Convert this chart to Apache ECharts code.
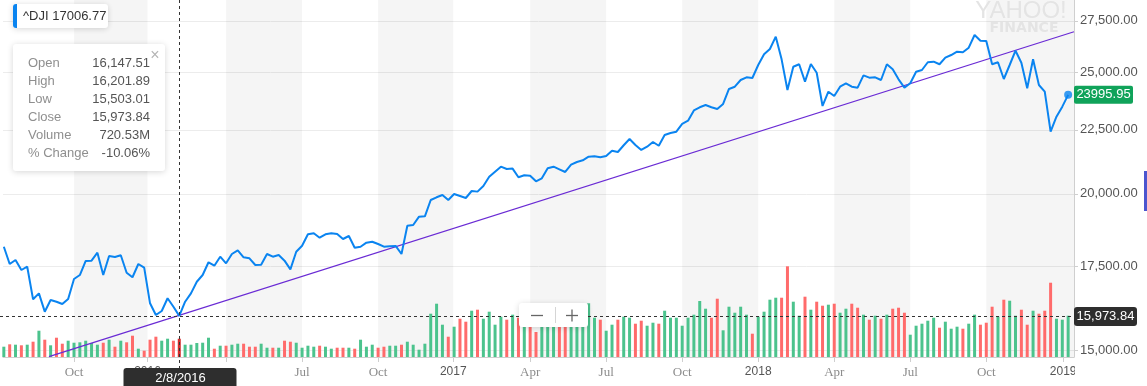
<!DOCTYPE html>
<html><head><meta charset="utf-8">
<script src="https://cdn.jsdelivr.net/npm/echarts@6/dist/echarts.min.js"></script>
<style>html,body{margin:0;padding:0;background:#fff}#c{width:1147px;height:386px}</style>
</head><body><div id="c"></div>
<script>
// ---- DATA ----
const symbolName = '^DJI';
const legendValue = '17006.77';
const weekDates = [
'2015-07-13','2015-07-20','2015-07-27',
'2015-08-03','2015-08-10','2015-08-17','2015-08-24','2015-08-31',
'2015-09-07','2015-09-14','2015-09-21','2015-09-28',
'2015-10-05','2015-10-12','2015-10-19','2015-10-26',
'2015-11-02','2015-11-09','2015-11-16','2015-11-23','2015-11-30',
'2015-12-07','2015-12-14','2015-12-21','2015-12-28',
'2016-01-04','2016-01-11','2016-01-18','2016-01-25',
'2016-02-01','2016-02-08','2016-02-15','2016-02-22','2016-02-29',
'2016-03-07','2016-03-14','2016-03-21','2016-03-28',
'2016-04-04','2016-04-11','2016-04-18','2016-04-25',
'2016-05-02','2016-05-09','2016-05-16','2016-05-23','2016-05-30',
'2016-06-06','2016-06-13','2016-06-20','2016-06-27',
'2016-07-04','2016-07-11','2016-07-18','2016-07-25',
'2016-08-01','2016-08-08','2016-08-15','2016-08-22','2016-08-29',
'2016-09-05','2016-09-12','2016-09-19','2016-09-26',
'2016-10-03','2016-10-10','2016-10-17','2016-10-24','2016-10-31',
'2016-11-07','2016-11-14','2016-11-21','2016-11-28',
'2016-12-05','2016-12-12','2016-12-19','2016-12-26',
'2017-01-02','2017-01-09','2017-01-16','2017-01-23','2017-01-30',
'2017-02-06','2017-02-13','2017-02-20','2017-02-27',
'2017-03-06','2017-03-13','2017-03-20','2017-03-27',
'2017-04-03','2017-04-10','2017-04-17','2017-04-24',
'2017-05-01','2017-05-08','2017-05-15','2017-05-22','2017-05-29',
'2017-06-05','2017-06-12','2017-06-19','2017-06-26',
'2017-07-03','2017-07-10','2017-07-17','2017-07-24','2017-07-31',
'2017-08-07','2017-08-14','2017-08-21','2017-08-28',
'2017-09-04','2017-09-11','2017-09-18','2017-09-25',
'2017-10-02','2017-10-09','2017-10-16','2017-10-23','2017-10-30',
'2017-11-06','2017-11-13','2017-11-20','2017-11-27',
'2017-12-04','2017-12-11','2017-12-18','2017-12-25',
'2018-01-01','2018-01-08','2018-01-15','2018-01-22','2018-01-29',
'2018-02-05','2018-02-12','2018-02-19','2018-02-26',
'2018-03-05','2018-03-12','2018-03-19','2018-03-26',
'2018-04-02','2018-04-09','2018-04-16','2018-04-23','2018-04-30',
'2018-05-07','2018-05-14','2018-05-21','2018-05-28',
'2018-06-04','2018-06-11','2018-06-18','2018-06-25',
'2018-07-02','2018-07-09','2018-07-16','2018-07-23','2018-07-30',
'2018-08-06','2018-08-13','2018-08-20','2018-08-27',
'2018-09-03','2018-09-10','2018-09-17','2018-09-24',
'2018-10-01','2018-10-08','2018-10-15','2018-10-22','2018-10-29',
'2018-11-05','2018-11-12','2018-11-19','2018-11-26',
'2018-12-03','2018-12-10','2018-12-17','2018-12-24','2018-12-31',
'2019-01-07'];
const closePrices = [
18143,17574,17705,17381,17487,16468,16650,16097,16446,16395,
16326,16478,17095,17221,17672,17682,17944,17221,17835,17800,
17858,17295,17150,17574,17455,16347,15999,16118,16499,16245,
15973.84,16395,16650,17010,17221,17630,17520,17812,17597,17901,
18023,17792,17760,17541,17550,17901,17812,17868,17682,17403,
17976,18177,18562,18596,18446,18562,18596,18573,18402,18504,
18110,18143,18278,18311,18234,18143,18156,18168,17901,18858,
18883,19175,19188,19772,19871,19956,19772,19992,19919,19845,
20103,20080,20289,20640,20831,21024,20934,20950,20616,20693,
20678,20466,20579,20961,21024,20923,20819,21102,21206,21273,
21414,21429,21390,21442,21651,21600,21869,22124,21880,21680,
21812,22002,21851,22286,22368,22422,22750,22880,23320,23454,
23553,23454,23379,23597,24258,24360,24662,24785,24753,25353,
25857,26109,26710,25620,24212,25273,25387,24586,25401,24996,
23510,24137,23946,24360,24513,24360,24316,24876,24768,24785,
24662,25387,25153,24694,24316,24513,25043,25120,25481,25508,
25387,25697,25824,25982,25953,26174,26793,26514,26500,25387,
25481,24708,25353,26030,25461,24290,25620,24437,24137,22422,
23052,23480,23995.95];
const volumeM = [
406,500,485,461,485,603,1036,682,461,760,
524,642,563,579,642,552,485,563,682,406,
642,579,839,327,248,682,800,642,721,642,
720.53,485,485,552,563,760,327,445,445,485,
524,524,406,406,524,366,366,366,642,603,
563,366,445,406,445,406,327,366,366,366,
327,682,406,485,366,406,445,445,485,603,
485,288,524,1706,2100,1273,800,1194,1509,1391,
1824,1864,1509,1785,1273,1588,1470,1667,1548,1576,
1379,985,1497,1576,1418,1497,1655,1497,1418,1576,
2116,1548,1470,1036,1273,1470,1588,1548,1312,1430,
1233,1351,1312,1824,1548,1548,1233,1548,1667,2206,
1903,1548,2297,1052,1982,1745,1982,1667,918,1588,
1785,2258,2336,2336,3574,2179,1627,2376,1864,2179,
2021,2061,2100,1745,1903,2100,1942,1667,1470,1627,
1509,1667,1903,1942,1745,879,1233,1312,1430,1548,
1154,1391,1115,1194,1115,1312,1667,1273,1351,1982,
1588,2258,2218,1627,1864,1273,1824,1706,1824,2927,
1509,1470,1627];
const priceTicks = [15000, 17500, 20000, 22500, 25000, 27500];
const xTickDates = ['2015-10-05','2016-01-01','2016-04-04','2016-07-04','2016-10-03','2017-01-01','2017-04-03','2017-07-03','2017-10-02','2018-01-01','2018-04-02','2018-07-02','2018-10-01','2019-01-01'];
const xTickLabels = ['Oct','2016','Apr','Jul','Oct','2017','Apr','Jul','Oct','2018','Apr','Jul','Oct','2019'];
const shadedQuarters = [['2015-10-05','2016-01-01'],['2016-04-04','2016-07-04'],['2016-10-03','2017-01-01'],['2017-04-03','2017-07-03'],['2017-10-02','2018-01-01'],['2018-04-02','2018-07-02'],['2018-10-01','2019-01-14']];
const trendLine = [['2015-09-05',14815],['2019-01-14',26954]];
const hoverDate = '2016-02-08';
const hoverDateLabel = '2/8/2016';
const hoverCloseLabel = '15,973.84';
const quoteLabels = ['Open','High','Low','Close','Volume','% Change'];
const quoteValues = ['16,147.51','16,201.89','15,503.01','15,973.84','720.53M','-10.06%'];
const lastCloseLabel = '23995.95';

// ---- CHART ----
const FONT = '"Liberation Sans", Arial, Helvetica, sans-serif';
const SERIF = '"Liberation Serif", "Times New Roman", serif';
const UP = '#4cc38d', DOWN = '#ff6b6b', HOVER = '#d42d2d', BLUE = '#0a84f0';
function toTime(s){const p=s.split('-');return Date.UTC(+p[0],+p[1]-1,+p[2]);}
const tickTimes = xTickDates.map(toTime);
const hoverIdx = weekDates.indexOf(hoverDate);
const lastIdx = weekDates.length - 1;
function tickLabel(v){
  let best=0, bd=Infinity;
  tickTimes.forEach((t,i)=>{const d=Math.abs(t-v); if(d<bd){bd=d;best=i;}});
  return xTickLabels[best];
}

const chart = echarts.init(document.getElementById('c'));
chart.setOption({
  animation:false,
  tooltip:{show:false},
  grid:{left:3,right:73,top:0,bottom:29},
  xAxis:{type:'value',min:toTime('2015-07-12'),max:toTime('2019-01-14'),scale:true,
    axisLine:{show:true,lineStyle:{color:'#cfcfcf'}},
    axisTick:{show:true,length:5,lineStyle:{color:'#cfcfcf'},customValues:tickTimes},
    axisLabel:{customValues:tickTimes,margin:9,showMinLabel:true,showMaxLabel:true,
      formatter:function(v){const l=tickLabel(v);return /^\d/.test(l)?'{y|'+l+'}':'{m|'+l+'}';},
      rich:{m:{fontFamily:SERIF,fontSize:13,color:'#8c8c8c'},y:{fontFamily:FONT,fontSize:12,color:'#555'}}},
    splitLine:{show:false}},
  yAxis:[{type:'log',logBase:10,position:'right',min:14808,max:28577,
    axisLine:{show:true,lineStyle:{color:'#cfcfcf'}},
    axisTick:{show:true,length:4,lineStyle:{color:'#cfcfcf'},customValues:priceTicks},
    axisLabel:{customValues:priceTicks,margin:6,fontFamily:FONT,fontSize:13,color:'#555',
      formatter:function(v){return Number(v).toLocaleString('en-US',{minimumFractionDigits:2,maximumFractionDigits:2});}},
    splitLine:{show:true,lineStyle:{color:'#ececec'}}},
   {type:'value',min:0,max:14066,show:false,splitLine:{show:false}}],
  series:[
    {type:'line',data:[],z:1,silent:true,
     markArea:{silent:true,itemStyle:{color:'rgba(0,0,0,0.04)'},
       data:shadedQuarters.map(q=>[{xAxis:toTime(q[0])},{xAxis:toTime(q[1])}])}},
    {type:'bar',yAxisIndex:1,barWidth:3,z:2,silent:true,
     data:weekDates.map((d,i)=>({value:[toTime(d),volumeM[i]],itemStyle:{color:i===hoverIdx?HOVER:((i===0||closePrices[i]>=closePrices[i-1])?UP:DOWN)}}))},
    {type:'line',data:trendLine.map(p=>[toTime(p[0]),p[1]]),symbol:'none',z:3,silent:true,lineStyle:{color:'#6a2bd4',width:1.3}},
    {type:'line',data:weekDates.map((d,i)=>[toTime(d),closePrices[i]]),symbol:'none',z:4,silent:true,lineStyle:{color:BLUE,width:2}},
    {type:'scatter',data:[[toTime(weekDates[lastIdx]),closePrices[lastIdx]]],symbolSize:8,z:5,silent:true,itemStyle:{color:BLUE}}
  ]
});

const hx = Math.round(chart.convertToPixel({xAxisIndex:0}, toTime(hoverDate))) + 0.5;
const hy = Math.round(chart.convertToPixel({yAxisIndex:0}, closePrices[hoverIdx])) + 0.5;
const ly = chart.convertToPixel({yAxisIndex:0}, closePrices[lastIdx]);
const axisX = 1074;
const shadow = {shadowBlur:6,shadowColor:'rgba(0,0,0,0.16)',shadowOffsetY:1};
const g = [];
g.push({type:'line',z:60,silent:true,shape:{x1:hx,y1:0,x2:hx,y2:370},style:{stroke:'#333',lineWidth:1,lineDash:[3,3]}});
g.push({type:'line',z:60,silent:true,shape:{x1:0,y1:hy,x2:axisX,y2:hy},style:{stroke:'#333',lineWidth:1,lineDash:[3,3]}});
g.push({type:'rect',z:50,silent:true,shape:{x:axisX+1,y:359,width:80,height:30},style:{fill:'#fff'}});
g.push({type:'rect',z:70,shape:{x:axisX,y:hy-9.5,width:63,height:19,r:3},style:{fill:'#2e2e2e'}});
g.push({type:'text',z:71,style:{text:hoverCloseLabel,x:axisX+31.5,y:hy,align:'center',verticalAlign:'middle',fill:'#fff',font:'13px '+FONT}});
g.push({type:'rect',z:70,shape:{x:axisX,y:ly-9,width:59,height:18,r:2},style:{fill:'#10a35a'}});
g.push({type:'text',z:71,style:{text:lastCloseLabel,x:axisX+29.5,y:ly,align:'center',verticalAlign:'middle',fill:'#fff',font:'13px '+FONT}});
g.push({type:'rect',z:70,shape:{x:hx-56,y:368,width:113,height:22,r:3},style:{fill:'#2e2e2e'}});
g.push({type:'text',z:71,style:{text:hoverDateLabel,x:hx+1,y:378,align:'center',verticalAlign:'middle',fill:'#fff',font:'13px '+FONT}});
g.push({type:'rect',z:80,shape:{x:519,y:303,width:69,height:24,r:3},style:Object.assign({fill:'#fff'},shadow)});
g.push({type:'line',z:81,shape:{x1:555.5,y1:307,x2:555.5,y2:323},style:{stroke:'#d5d5d5',lineWidth:1}});
g.push({type:'line',z:81,shape:{x1:531,y1:315.5,x2:543,y2:315.5},style:{stroke:'#666',lineWidth:1.3}});
g.push({type:'line',z:81,shape:{x1:566,y1:315.5,x2:578,y2:315.5},style:{stroke:'#666',lineWidth:1.3}});
g.push({type:'line',z:81,shape:{x1:572,y1:309.5,x2:572,y2:321.5},style:{stroke:'#666',lineWidth:1.3}});
g.push({type:'rect',z:80,shape:{x:13,y:4,width:95,height:24,r:3},style:Object.assign({fill:'#fff'},shadow)});
g.push({type:'rect',z:81,shape:{x:13,y:4,width:4,height:24,r:[3,0,0,3]},style:{fill:BLUE}});
g.push({type:'text',z:81,style:{text:symbolName+' '+legendValue,x:23,y:16.5,verticalAlign:'middle',fill:'#333',font:'13px '+FONT}});
g.push({type:'rect',z:80,shape:{x:13,y:44,width:152,height:127,r:3},style:Object.assign({fill:'#fff'},shadow)});
g.push({type:'text',z:81,style:{text:'\u00d7',x:155,y:56,align:'center',verticalAlign:'middle',fill:'#b5b5b5',font:'16px '+FONT}});
quoteLabels.forEach((l,i)=>{
  g.push({type:'text',z:81,style:{text:l,x:28,y:63.5+i*18,verticalAlign:'middle',fill:'#8f8f8f',font:'13px '+FONT}});
  g.push({type:'text',z:81,style:{text:quoteValues[i],x:150,y:63.5+i*18,align:'right',verticalAlign:'middle',fill:'#555',font:'13px '+FONT}});
});
g.push({type:'text',z:1,silent:true,style:{text:'YAHOO!',x:1021,y:11.5,align:'center',verticalAlign:'middle',fill:'#e4e4e4',font:'24px '+FONT}});
g.push({type:'text',z:1,silent:true,style:{text:'FINANCE',x:1024,y:28,align:'center',verticalAlign:'middle',fill:'#e4e4e4',font:'bold 14px "DejaVu Sans", sans-serif'}});
g.push({type:'rect',z:80,shape:{x:1144,y:171,width:3,height:40},style:{fill:'#4b55cf'}});
chart.setOption({graphic:g});
</script>
</body></html>
